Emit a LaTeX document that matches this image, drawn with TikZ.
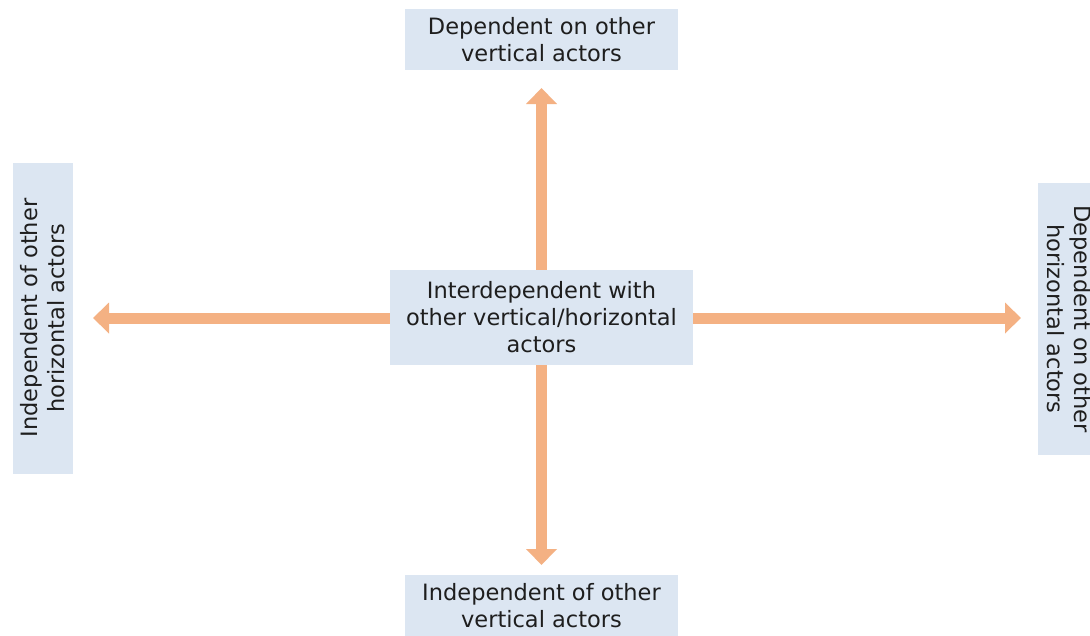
\documentclass[tikz,border=0pt]{standalone}
\usepackage{fontspec}
\setmainfont{DejaVu Sans}
\usetikzlibrary{arrows.meta}
\definecolor{boxfill}{HTML}{DCE6F2}
\definecolor{arrowc}{HTML}{F4B183}
\definecolor{txt}{HTML}{1E1E1E}
\begin{document}
\begin{tikzpicture}[x=1pt,y=-1pt,
  lbl/.style={fill=boxfill, text=txt, align=center, inner sep=0pt,
     font=\fontsize{22.5}{27}\selectfont},
  conn/.style={draw=arrowc, line width=11pt,
     -{Triangle[width=30pt,length=16pt]}}]
\clip (0,0) rectangle (1090,635);
\fill[white] (0,0) rectangle (1090,635);
\node[lbl, minimum width=303pt, minimum height=95pt] (c) at (541.5,317.5)
  {Interdependent with\\other vertical/horizontal\\actors};
\node[lbl, minimum width=273pt, minimum height=61pt] (t) at (541.5,39.5)
  {Dependent on other\\vertical actors};
\node[lbl, minimum width=273pt, minimum height=62pt] (b) at (541.5,606)
  {Independent of other\\vertical actors};
\node[lbl, rotate=90, minimum width=311pt, minimum height=60pt] (l) at (43,318)
  {Independent of other\\horizontal actors};
\node[lbl, rotate=-90, minimum width=272pt, minimum height=62pt] (r) at (1069,319)
  {Dependent on other\\horizontal actors};
\coordinate (tt) at (541.5,88);
\coordinate (bt) at (541.5,565);
\coordinate (lt) at (93,318);
\coordinate (rt) at (1021,318);
\draw[conn] (c.north) -- (tt);
\draw[conn] (c.south) -- (bt);
\draw[conn] (c.west |- lt) -- (lt);
\draw[conn] (c.east |- rt) -- (rt);
\end{tikzpicture}
\end{document}
